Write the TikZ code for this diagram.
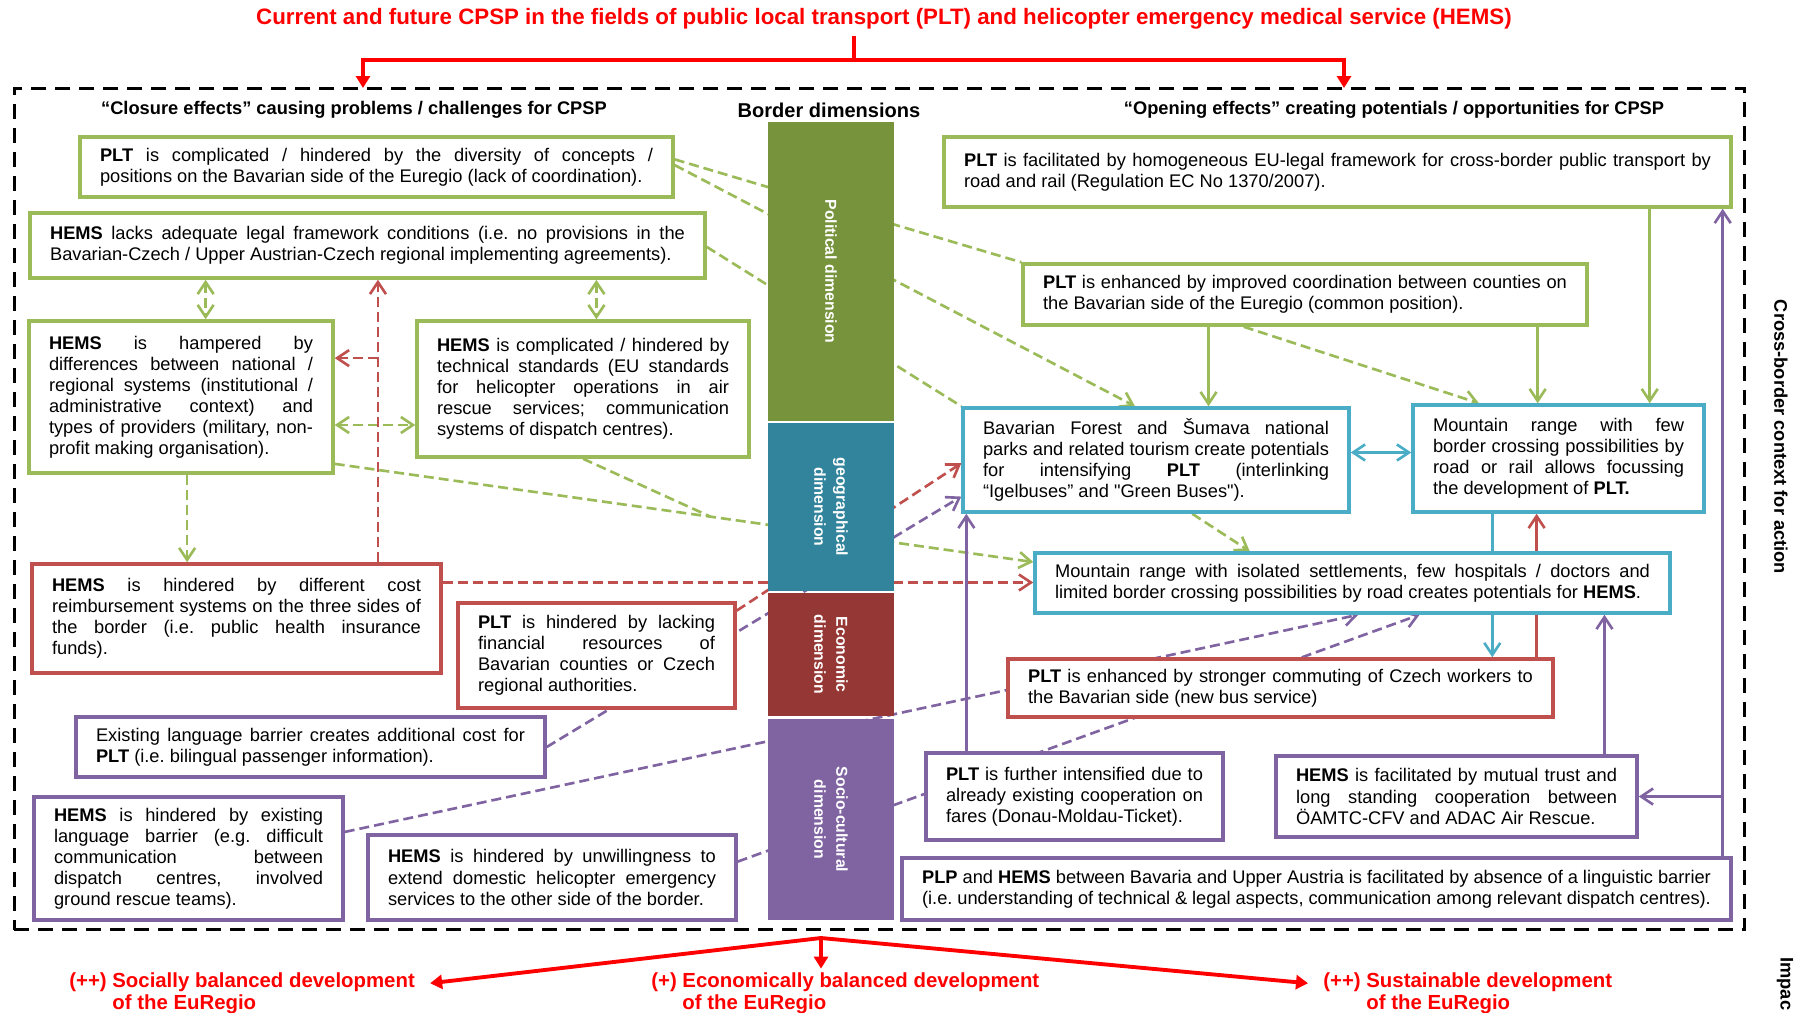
\documentclass[tikz,border=0pt]{standalone}
\usepackage{fontspec}
\setmainfont{Liberation Sans}[Ligatures=TeXOff]
\usetikzlibrary{arrows.meta, calc, backgrounds}

\definecolor{grn}{HTML}{9BBB59}
\definecolor{rd}{HTML}{C0504D}
\definecolor{blu}{HTML}{4BACC6}
\definecolor{prp}{HTML}{8064A2}
\definecolor{polfill}{HTML}{77933C}
\definecolor{geofill}{HTML}{31849B}
\definecolor{ecofill}{HTML}{953735}
\definecolor{socfill}{HTML}{8064A2}
\definecolor{brightred}{HTML}{FF0000}

\frenchspacing
\newcommand{\bodyfont}{\fontsize{10.4}{12}\selectfont\hyphenpenalty=10000\tolerance=9999}

\tikzset{
  txtbox/.style={draw, line width=2pt, fill=white, inner xsep=0.4cm, inner ysep=0pt, align=justify, font=\bodyfont},
  gbox/.style={txtbox, draw=grn},
  rbox/.style={txtbox, draw=rd},
  bbox/.style={txtbox, draw=blu},
  pbox/.style={txtbox, draw=prp},
  dimbar/.style={rotate=-90, minimum height=2.52cm, inner sep=0pt, text=white, align=center, font=\fontsize{9}{12.5}\selectfont\bfseries},
  head/.style={font=\fontsize{10.4}{12}\selectfont\bfseries},
  outcome/.style={anchor=west, align=left, inner xsep=0.3cm, inner ysep=2pt, text=brightred, font=\fontsize{11.6}{12.5}\selectfont\bfseries},
  conn/.style={line width=1.5pt},
  dsh/.style={conn, dash pattern=on 0.2cm off 0.1cm},
  gdash/.style={dsh, grn},
  rdash/.style={dsh, rd},
  pdash/.style={dsh, prp},
  gline/.style={conn, grn},
  rline/.style={conn, rd},
  bline/.style={conn, blu},
  pline/.style={conn, prp},
  bigred/.style={line width=2.2pt, brightred, -{Triangle[length=0.24cm, width=0.28cm]}}
}

\begin{document}
\begin{tikzpicture}[x=0.02cm, y=-0.02cm, >={Straight Barb[length=0.24cm, width=0.32cm]}]
\useasboundingbox (0,0) rectangle (1798,1012);

% Title and frame
\node[text=brightred, font=\fontsize{12.7}{15}\selectfont\bfseries] (title) at (884,19) {Current and future CPSP in the fields of public local transport (PLT) and helicopter emergency medical service (HEMS)};
\node[draw, line width=1.7pt, dash pattern=on 0.3cm off 0.18cm, minimum width=34.62cm, minimum height=16.84cm, inner sep=0pt] (frame) at (879.5,509) {};
\node[head] (closehd) at (354,110) {“Closure effects” causing problems / challenges for CPSP};
\node[font=\fontsize{11.4}{13}\selectfont\bfseries] (borderhd) at (829,110) {Border dimensions};
\node[head] (openhd) at (1394,110) {“Opening effects” creating potentials / opportunities for CPSP};
\node[head, rotate=-90] (ctxlbl) at (1781,437) {Cross-border context for action};
\node[head, rotate=-90, anchor=west, inner sep=0pt] (implbl) at (1785,957) {Impac};

% Border dimensions
\node[dimbar, fill=polfill, minimum width=5.98cm] (pol) at (831,271.5) {Political dimension};
\node[dimbar, fill=geofill, minimum width=3.36cm] (geo) at (831,507) {geographical\\dimension};
\node[dimbar, fill=ecofill, minimum width=2.46cm] (eco) at (831,654.5) {Economic\\dimension};
\node[dimbar, fill=socfill, minimum width=4.02cm] (socio) at (831,819.5) {Socio-cultural\\dimension};

% Closure effects
\node[gbox, text width=11.06cm, minimum height=1.2cm] (b1) at (376.5,167) {\textbf{PLT} is complicated / hindered by the diversity of concepts /\linebreak positions on the Bavarian side of the Euregio (lack of coordination).};
\node[gbox, text width=12.7cm, minimum height=1.3cm] (b2) at (367.5,245.5) {\textbf{HEMS} lacks adequate legal framework conditions (i.e. no provisions in the\linebreak Bavarian-Czech / Upper Austrian-Czech regional implementing agreements).};
\node[gbox, text width=5.28cm, minimum height=3.04cm] (b3) at (181,397) {\textbf{HEMS} is hampered by\linebreak differences between national /\linebreak regional systems (institutional /\linebreak administrative context) and\linebreak types of providers (military, non-\linebreak profit making organisation).};
\node[gbox, text width=5.84cm, minimum height=2.72cm] (b4) at (583,389) {\textbf{HEMS} is complicated / hindered by\linebreak technical standards (EU standards\linebreak for helicopter operations in air\linebreak rescue services; communication\linebreak systems of dispatch centres).};
\node[rbox, text width=7.38cm, minimum height=2.18cm] (b5) at (236.5,618.5) {\textbf{HEMS} is hindered by different cost\linebreak reimbursement systems on the three sides of\linebreak the border (i.e. public health insurance\linebreak funds).};
\node[rbox, text width=4.74cm, minimum height=2.1cm] (b6) at (596.5,655.5) {\textbf{PLT} is hindered by lacking\linebreak financial resources of\linebreak Bavarian counties or Czech\linebreak regional authorities.};
\node[pbox, text width=8.58cm, minimum height=1.2cm] (b7) at (310.5,747) {Existing language barrier creates additional cost for\linebreak \textbf{PLT} (i.e. bilingual passenger information).};
\node[pbox, text width=5.38cm, minimum height=2.46cm] (b8) at (188.5,858.5) {\textbf{HEMS} is hindered by existing\linebreak language barrier (e.g. difficult\linebreak communication between\linebreak dispatch centres, involved\linebreak ground rescue teams).};
\node[pbox, text width=6.56cm, minimum height=1.7cm] (b9) at (552,877.5) {\textbf{HEMS} is hindered by unwillingness to\linebreak extend domestic helicopter emergency\linebreak services to the other side of the border.};

% Opening effects
\node[gbox, text width=14.94cm, minimum height=1.4cm] (r1) at (1337.5,172) {\textbf{PLT} is facilitated by homogeneous EU-legal framework for cross-border public transport by\linebreak road and rail (Regulation EC No 1370/2007).};
\node[gbox, text width=10.48cm, minimum height=1.22cm] (r2) at (1305,294.5) {\textbf{PLT} is enhanced by improved coordination between counties on\linebreak the Bavarian side of the Euregio (common position).};
\node[bbox, text width=6.92cm, minimum height=2.08cm] (r3) at (1156,460) {Bavarian Forest and Šumava national\linebreak parks and related tourism create potentials\linebreak for intensifying \textbf{PLT} (interlinking\linebreak “Igelbuses” and "Green Buses").};
\node[bbox, text width=5.02cm, minimum height=2.14cm] (r4) at (1558.5,458.5) {Mountain range with few\linebreak border crossing possibilities by\linebreak road or rail allows focussing\linebreak the development of \textbf{PLT.}};
\node[bbox, text width=11.9cm, minimum height=1.2cm] (r5) at (1352.5,583) {Mountain range with isolated settlements, few hospitals / doctors and\linebreak limited border crossing possibilities by road creates potentials for \textbf{HEMS}.};
\node[rbox, text width=10.1cm, minimum height=1.16cm] (r6) at (1280.5,688) {\textbf{PLT} is enhanced by stronger commuting of Czech workers to\linebreak the Bavarian side (new bus service)};
\node[pbox, text width=5.14cm, minimum height=1.74cm] (r7) at (1074.5,796.5) {\textbf{PLT} is further intensified due to\linebreak already existing cooperation on\linebreak fares (Donau-Moldau-Ticket).};
\node[pbox, text width=6.42cm, minimum height=1.62cm] (r8) at (1456.5,796.5) {\textbf{HEMS} is facilitated by mutual trust and\linebreak long standing cooperation between\linebreak ÖAMTC-CFV and ADAC Air Rescue.};
\node[pbox, text width=15.78cm, minimum height=1.24cm] (r9) at (1316.5,889) {\textbf{PLP} and \textbf{HEMS} between Bavaria and Upper Austria is facilitated by absence of a linguistic barrier\linebreak (i.e. understanding of technical \& legal aspects, communication among relevant dispatch centres).};

% Impacts
\node[outcome] (socdev) at (54,993) {(++) Socially balanced development\\\phantom{(++) }of the EuRegio};
\node[outcome] (ecodev) at (636,993) {(+) Economically balanced development\\\phantom{(+) }of the EuRegio};
\node[outcome] (susdev) at (1308,993) {(++) Sustainable development\\\phantom{(++) }of the EuRegio};

\begin{scope}[on background layer]
% Red arrows from title and to impacts
\coordinate (split) at (854,60);
\coordinate (lin) at (363,88);
\coordinate (rin) at (1344,88);
\draw[bigred, -] (split |- title.south) -- (split);
\draw[bigred] (split) -| (lin);
\draw[bigred] (split) -| (rin);
\coordinate (hub) at (821,938);
\draw[bigred] (hub) -- ($(socdev.north east)!0.3!(socdev.south east)$);
\draw[bigred] (hub) -- (hub |- ecodev.north);
\draw[bigred] (hub) -- ($(susdev.north west)!0.3!(susdev.south west)$);

% Green dashed links
\coordinate (b1a) at ($(b1.north east)!0.38!(b1.south east)$);
\coordinate (b1b) at ($(b1.north east)!0.47!(b1.south east)$);
\coordinate (r3a) at ($(r3.north west)!0.446!(r3.north east)$);
\draw[gdash] (b1a) -- (r2.north west);
\draw[gdash, ->] (b1b) -- (r3a);
\coordinate (b2a) at ($(b2.north east)!0.52!(b2.south east)$);
\draw[gdash] (b2a) -- (r3.north west);
\coordinate (b3a) at ($(b3.north east)!0.93!(b3.south east)$);
\coordinate (r5a) at ($(r5.north west)!0.17!(r5.south west)$);
\draw[gdash, ->] (b3a) -- (r5a);
\draw[gdash] (b4.south) -- ($(b3a)!0.538!(r5a)$);
\coordinate (r2a) at ($(r2.south west)!0.392!(r2.south east)$);
\coordinate (r4a) at ($(r4.north west)!0.23!(r4.north east)$);
\draw[gdash, ->] (r2a) -- (r4a);
\coordinate (r3b) at ($(r3.south west)!0.593!(r3.south east)$);
\coordinate (r5b) at ($(r5.north west)!0.339!(r5.north east)$);
\draw[gdash, ->] (r3b) -- (r5b);
\coordinate (b3n) at ($(b3.north west)!0.58!(b3.north east)$);
\draw[gdash, <->] (b3n |- b2.south) -- (b3n);
\coordinate (b4n) at ($(b4.north west)!0.54!(b4.north east)$);
\draw[gdash, <->] (b4n |- b2.south) -- (b4n);
\coordinate (b3e) at ($(b3.north east)!0.68!(b3.south east)$);
\draw[gdash, <->] (b3e) -- (b3e -| b4.west);
\coordinate (b3s) at ($(b3.south west)!0.52!(b3.south east)$);
\draw[gdash, ->] (b3s) -- (b3s |- b5.north);

% Green solid links
\coordinate (r2b) at ($(r2.south west)!0.33!(r2.south east)$);
\draw[gline, ->] (r2b) -- (r2b |- r3.north);
\coordinate (r2c) at ($(r2.south west)!0.91!(r2.south east)$);
\draw[gline, ->] (r2c) -- (r2c |- r4.north);
\coordinate (r1a) at ($(r1.south west)!0.895!(r1.south east)$);
\draw[gline, ->] (r1a) -- (r1a |- r4.north);

% Blue links
\coordinate (r3e) at ($(r3.north east)!0.43!(r3.south east)$);
\draw[bline, <->] (r3e) -- (r3e -| r4.west);
\coordinate (r4b) at ($(r4.south west)!0.275!(r4.south east)$);
\draw[bline, ->] (r4b) -- (r4b |- r6.north);

% Red links
\coordinate (r6a) at ($(r6.north west)!0.967!(r6.north east)$);
\draw[rline, ->] (r6a) -- (r6a |- r4.south);
\coordinate (b5n) at ($(b5.north west)!0.843!(b5.north east)$);
\draw[rdash, ->] (b5n) -- (b5n |- b2.south);
\coordinate (b3f) at ($(b3.north east)!0.25!(b3.south east)$);
\draw[rdash, ->] (b5n |- b3f) -- (b3f);
\coordinate (b5e) at ($(b5.north east)!0.18!(b5.south east)$);
\draw[rdash, ->] (b5e) -- (b5e -| r5.west);
\coordinate (b6a) at ($(b6.north east)!0.086!(b6.south east)$);
\coordinate (r3w) at ($(r3.north west)!0.53!(r3.south west)$);
\draw[rdash, ->] (b6a) -- (r3w);

% Purple links
\coordinate (r3v) at ($(r3.north west)!0.84!(r3.south west)$);
\draw[pdash, ->] (b7.east) -- (r3v);
\coordinate (b8a) at ($(b8.north east)!0.29!(b8.south east)$);
\coordinate (r5c) at ($(r5.south west)!0.509!(r5.south east)$);
\draw[pdash, ->] (b8a) -- (r5c);
\coordinate (b9a) at ($(b9.north east)!0.32!(b9.south east)$);
\coordinate (r5d) at ($(r5.south west)!0.605!(r5.south east)$);
\draw[pdash, ->] (b9a) -- (r5d);
\coordinate (r7a) at ($(r7.north west)!0.14!(r7.north east)$);
\draw[pline, ->] (r7a) -- (r7a |- r3.south);
\coordinate (r8a) at ($(r8.north west)!0.906!(r8.north east)$);
\draw[pline, ->] (r8a) -- (r8a |- r5.south);
\coordinate (r9a) at ($(r9.north west)!0.988!(r9.north east)$);
\draw[pline, ->] (r9a) -- (r9a |- r1.south);
\draw[pline, ->] (r9a |- r8.east) -- (r8.east);
\end{scope}
\end{tikzpicture}
\end{document}
